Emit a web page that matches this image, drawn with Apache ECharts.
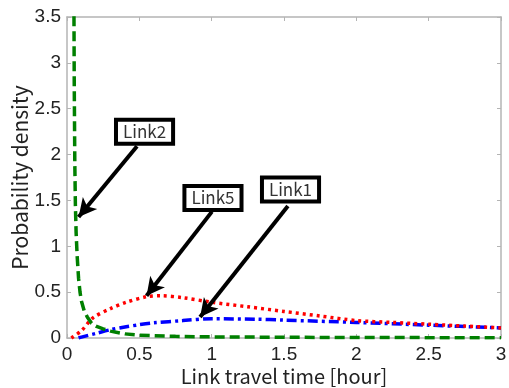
<!DOCTYPE html>
<html>
<head>
<meta charset="utf-8">
<script src="https://cdn.jsdelivr.net/npm/echarts@6/dist/echarts.min.js"></script>
<style>
  html, body { margin: 0; padding: 0; background: #fff; }
  #chart { width: 509px; height: 388px; }
</style>
</head>
<body>
<div id="chart"></div>
<script>
// Link1 (blue, dash-dot)
var link1X = [0.08, 0.1, 0.2, 0.3, 0.4, 0.5, 0.6, 0.8, 1.0, 1.3, 1.5, 2.0, 2.5, 3.0];
var link1Y = [0, 0.01, 0.05, 0.09, 0.12, 0.145, 0.165, 0.19, 0.21, 0.205, 0.195, 0.17, 0.14, 0.11];
// Link5 (red, dotted)
var link5X = [0.03, 0.1, 0.18, 0.3, 0.41, 0.55, 0.65, 0.8, 1.0, 1.25, 1.5, 1.75, 2.0, 2.25, 2.5, 2.75, 3.0];
var link5Y = [0, 0.08, 0.22, 0.32, 0.39, 0.45, 0.46, 0.44, 0.39, 0.34, 0.29, 0.24, 0.19, 0.17, 0.15, 0.13, 0.11];
// Link2 (green, dashed)
var link2X = [0.047, 0.05, 0.054, 0.058, 0.063, 0.07, 0.08, 0.09, 0.1, 0.12, 0.14, 0.17, 0.2, 0.25, 0.3, 0.4, 0.5, 0.75, 1.0, 1.5, 2.0, 3.0];
var link2Y = [4.0, 2.8, 1.9, 1.45, 1.15, 0.9, 0.65, 0.5, 0.4, 0.29, 0.23, 0.16, 0.13, 0.1, 0.075, 0.045, 0.03, 0.018, 0.012, 0.008, 0.005, 0.003];

var xTicks = [0, 0.5, 1, 1.5, 2, 2.5, 3];
var yTicks = [0, 0.5, 1, 1.5, 2, 2.5, 3, 3.5];

// annotation labels: box centre and arrow [from, to], in data units
var noteNames = ['Link1', 'Link5', 'Link2'];
var noteBox = [[1.545, 1.62], [1.009, 1.526], [0.536, 2.248]];
var noteArrow = [
  [[1.527, 1.44], [0.92, 0.23]],
  [[1.002, 1.378], [0.55, 0.46]],
  [[0.484, 2.09], [0.08, 1.32]]
];

function pairs(xs, ys) {
  return xs.map(function (x, i) { return [x, ys[i]]; });
}

var FONT = '"Noto Sans CJK JP", "DejaVu Sans", sans-serif';
var NUM_FONT = '"Liberation Sans", Arial, sans-serif';
var gray = '#b4b4b4';

function note(i) {
  return {
    markLine: {
      silent: true,
      symbol: ['none', 'arrow'],
      symbolSize: [14, 18],
      lineStyle: { color: '#000', width: 4, type: 'solid' },
      label: { show: false },
      data: [[
        { coord: noteArrow[i][0] },
        { coord: noteArrow[i][1] }
      ]]
    },
    markPoint: {
      silent: true,
      symbol: 'circle',
      symbolSize: 1,
      itemStyle: { color: 'rgba(0,0,0,0)' },
      label: {
        show: true, position: 'inside', formatter: noteNames[i],
        color: '#333', fontFamily: FONT, fontSize: 17,
        backgroundColor: '#fff', borderColor: '#000', borderWidth: 4,
        padding: [2, 5, 1, 5]
      },
      data: [{ coord: noteBox[i] }]
    }
  };
}

var chart = echarts.init(document.getElementById('chart'));

var axisCommon = {
  type: 'value',
  nameMoveOverlap: false,
  axisLine: { show: true, onZero: false, lineStyle: { color: gray, width: 1.5 } },
  axisTick: { show: true, inside: true, length: 4, lineStyle: { color: gray } },
  splitLine: { show: false }
};

var series = [
  Object.assign({
    name: 'Link1', type: 'line', data: pairs(link1X, link1Y),
    smooth: 0.3, showSymbol: false, z: 2,
    lineStyle: { color: '#0000ff', width: 3.5, type: [10, 4, 3, 4] }
  }, note(0)),
  Object.assign({
    name: 'Link5', type: 'line', data: pairs(link5X, link5Y),
    smooth: 0.3, showSymbol: false, z: 3,
    lineStyle: { color: '#ff0000', width: 3.5, type: [3, 4] }
  }, note(1)),
  Object.assign({
    name: 'Link2', type: 'line', data: pairs(link2X, link2Y),
    smooth: false, showSymbol: false, z: 4,
    lineStyle: { color: '#008000', width: 3.5, type: [10, 5] }
  }, note(2))
];

chart.setOption({
  animation: false,
  backgroundColor: '#fff',
  grid: {
    left: 67, right: 8, top: 17, bottom: 50,
    containLabel: false, outerBoundsMode: 'none'
  },
  xAxis: [
    Object.assign({}, axisCommon, {
      min: 0, max: 3, interval: 0.5, position: 'bottom',
      name: 'Link travel time [hour]', nameLocation: 'middle', nameGap: 28,
      nameTextStyle: { fontFamily: FONT, fontSize: 20, color: '#222' },
      axisLabel: {
        margin: 7, fontFamily: NUM_FONT, fontSize: 19, color: '#222',
        formatter: function (v) { return xTicks.indexOf(v) >= 0 ? String(v) : ''; }
      }
    }),
    Object.assign({}, axisCommon, {
      min: 0, max: 3, interval: 0.5, position: 'top',
      axisLabel: { show: false }
    })
  ],
  yAxis: [
    Object.assign({}, axisCommon, {
      min: 0, max: 3.5, interval: 0.5, position: 'left',
      name: 'Probability density', nameLocation: 'middle', nameGap: 36,
      nameTextStyle: { fontFamily: FONT, fontSize: 21, color: '#222' },
      axisLabel: {
        margin: 6, fontFamily: NUM_FONT, fontSize: 19, color: '#222',
        formatter: function (v) { return yTicks.indexOf(v) >= 0 ? String(v) : ''; }
      }
    }),
    Object.assign({}, axisCommon, {
      min: 0, max: 3.5, interval: 0.5, position: 'right',
      axisLabel: { show: false }
    })
  ],
  series: series
});
</script>
</body>
</html>
